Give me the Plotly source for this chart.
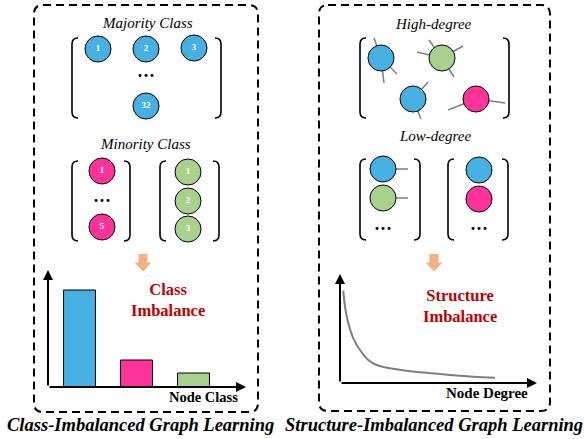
import plotly.graph_objects as go

# ---------------- data ----------------
majority_labels = ["1", "2", "3", "32"]
pink_labels = ["1", "5"]
green_labels = ["1", "2", "3"]

bar_categories = ["Majority", "Minority A", "Minority B"]
bar_values = [97, 27, 14]

degree_x = [3.3, 5, 8.3, 13.3, 20, 28.3, 36.7, 50, 66.7, 100, 133.3, 155]
degree_count = [92.3, 76.3, 59.7, 44.7, 33, 23, 18, 14.7, 12.3, 9, 6.3, 5.3]

# ---------------- style ----------------
W, H = 584, 439
BLUE = "#45B0E1"
PINK = "#FF3399"
GREEN = "#A9D18E"
ORANGE = "#F4B183"
RED = "#C00000"
GRAY = "#7F7F7F"
SERIF = "Liberation Serif"
NODE = 26

fig = go.Figure()


def nodes(xs, ys, color, labels=None):
    fig.add_trace(go.Scatter(
        x=xs, y=ys, mode="markers+text" if labels else "markers",
        marker=dict(size=NODE, color=color, line=dict(color="black", width=1)),
        text=["<b>%s</b>" % t for t in labels] if labels else None,
        textposition="middle center",
        textfont=dict(family=SERIF, size=9, color="white"),
        hoverinfo="skip", showlegend=False, xaxis="x", yaxis="y"))


def rrect(x0, y0, x1, y1, r):
    return (f"M{x0+r},{y0} L{x1-r},{y0} Q{x1},{y0} {x1},{y0+r} L{x1},{y1-r} "
            f"Q{x1},{y1} {x1-r},{y1} L{x0+r},{y1} Q{x0},{y1} {x0},{y1-r} "
            f"L{x0},{y0+r} Q{x0},{y0} {x0+r},{y0} Z")


def bracket(x0, x1, y0, y1, hook=6):
    left = f"M{x0+hook},{y0} Q{x0},{y0} {x0},{y0+hook} L{x0},{y1-hook} Q{x0},{y1} {x0+hook},{y1}"
    right = f"M{x1-hook},{y0} Q{x1},{y0} {x1},{y0+hook} L{x1},{y1-hook} Q{x1},{y1} {x1-hook},{y1}"
    for p in (left, right):
        fig.add_shape(type="path", path=p, line=dict(color="black", width=1.6),
                      xref="x", yref="y")


def down_arrow(cx, top):
    p = (f"M{cx-4.5},{top} L{cx+4.5},{top} L{cx+4.5},{top+8.5} L{cx+8.5},{top+8.5} "
         f"L{cx},{top+17.5} L{cx-8.5},{top+8.5} L{cx-4.5},{top+8.5} Z")
    fig.add_shape(type="path", path=p, fillcolor=ORANGE, line=dict(width=0),
                  xref="x", yref="y")


def text(x, y, s, size, color="black"):
    fig.add_annotation(x=x, y=y, text=s, showarrow=False, xref="x", yref="y",
                       font=dict(family=SERIF, size=size, color=color))


def axis_arrow(x0, y0, x1, y1):
    fig.add_annotation(x=x1, y=y1, ax=x0, ay=y0, xref="x", yref="y",
                       axref="x", ayref="y", text="", showarrow=True,
                       arrowhead=2, arrowsize=1, arrowwidth=2, arrowcolor="black")


# dashed frames
for (x0, y0, x1, y1) in [(34, 5, 258, 412), (319, 5, 550, 411)]:
    fig.add_shape(type="path", path=rrect(x0, y0, x1, y1, 9),
                  line=dict(color="black", width=2, dash="8px,5px"),
                  xref="x", yref="y")

# ---------- left panel ----------
text(147, 23, "<i>Majority Class</i>", 15)
bracket(72, 221, 38, 118)
nodes([98, 146, 194, 146], [49, 49, 48, 106], BLUE, majority_labels)
text(146, 76, "<b>···</b>", 18)

text(145, 144, "<i>Minority Class</i>", 15)
bracket(72, 130, 161, 241)
nodes([102, 102], [171, 227], PINK, pink_labels)
text(102, 201, "<b>···</b>", 18)
bracket(160, 219, 161, 241)
nodes([188, 188, 188], [172, 201, 229], GREEN, green_labels)

down_arrow(143, 254)
text(168, 300, "<b>Class<br>Imbalance</b>", 16.5, RED)
text(203, 397, "<b>Node Class</b>", 14.5)

fig.add_trace(go.Bar(
    x=[0, 1, 2], y=bar_values, width=0.56, text=bar_categories, textposition="none",
    marker=dict(color=[BLUE, PINK, GREEN], line=dict(color="black", width=1)),
    hoverinfo="skip", showlegend=False, xaxis="x2", yaxis="y2"))
axis_arrow(48, 387, 246, 387)
axis_arrow(48, 387, 48, 270)

# ---------- right panel ----------
text(433, 24, "<i>High-degree</i>", 15)
bracket(360, 509, 38, 118)
edges = [((381, 58), [(374, 38), (384, 83), (397, 74)]),
         ((442, 58), [(429, 40), (417, 52), (463, 46), (454, 77)]),
         ((413, 99), [(428, 82), (421, 119)]),
         ((476, 99), [(448, 110), (505, 103)])]
for (cx, cy), ends in edges:
    for ex, ey in ends:
        fig.add_shape(type="line", x0=cx, y0=cy, x1=ex, y1=ey, layer="below",
                      line=dict(color=GRAY, width=1.5), xref="x", yref="y")
nodes([381, 413], [58, 99], BLUE)
nodes([442], [58], GREEN)
nodes([476], [99], PINK)

text(435, 136, "<i>Low-degree</i>", 15)
bracket(360, 420, 159, 240)
for yy in (169, 198):
    fig.add_shape(type="line", x0=383, y0=yy, x1=408, y1=yy, layer="below",
                  line=dict(color=GRAY, width=1.5), xref="x", yref="y")
nodes([383], [169], BLUE)
nodes([383], [198], GREEN)
text(383, 229, "<b>···</b>", 18)
bracket(448, 508, 159, 240)
nodes([479], [170], BLUE)
nodes([479], [199], PINK)
text(479, 229, "<b>···</b>", 18)

down_arrow(434, 254)
text(460, 306, "<b>Structure<br>Imbalance</b>", 16.5, RED)
text(487, 393, "<b>Node Degree</b>", 15)

fig.add_trace(go.Scatter(
    x=degree_x, y=degree_count, mode="lines", line=dict(color=GRAY, width=2, shape="spline"),
    hoverinfo="skip", showlegend=False, xaxis="x3", yaxis="y3"))
axis_arrow(340, 383, 537, 383)
axis_arrow(340, 383, 340, 274)

# bottom titles
text(140, 425, "<b><i>Class-Imbalanced Graph Learning</i></b>", 18.5)
text(434, 425, "<b><i>Structure-Imbalanced Graph Learning</i></b>", 18.5)

hidden = dict(visible=False, fixedrange=True)
fig.update_layout(
    width=W, height=H, margin=dict(l=0, r=0, t=0, b=0),
    paper_bgcolor="white", plot_bgcolor="rgba(0,0,0,0)",
    xaxis=dict(range=[0, W], domain=[0, 1], **hidden),
    yaxis=dict(range=[H, 0], domain=[0, 1], **hidden),
    xaxis2=dict(range=[-0.553, 2.903], domain=[48 / W, 245 / W], anchor="y2", **hidden),
    yaxis2=dict(range=[0, 116], domain=[1 - 387 / H, 1 - 271 / H], anchor="x2", **hidden),
    xaxis3=dict(range=[0, 196], domain=[340 / W, 536 / W], anchor="y3", **hidden),
    yaxis3=dict(range=[0, 108], domain=[1 - 383 / H, 1 - 275 / H], anchor="x3", **hidden),
)

fig.write_html("out.html", config={"displayModeBar": False},
               post_script="document.body.style.margin='0';document.body.style.overflow='hidden';")
